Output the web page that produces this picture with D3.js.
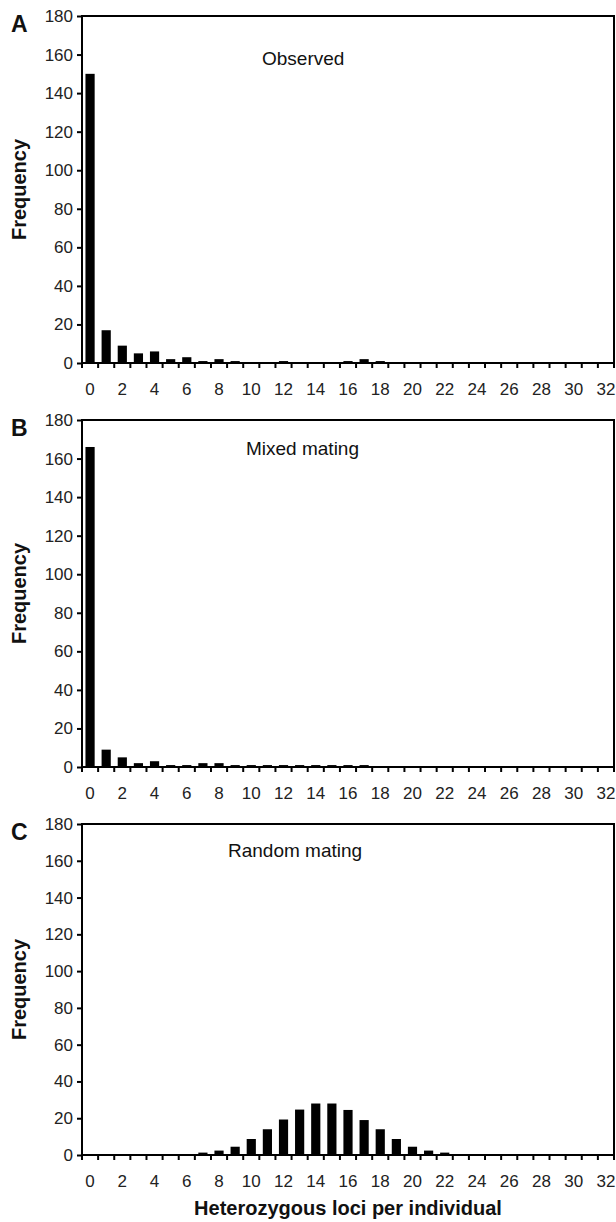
<!DOCTYPE html>
<html>
<meta charset="UTF-8">
<head>
    <script src="https://cdn.jsdelivr.net/npm/d3@7"></script>
    <style>
        body { margin: 0; background: white; }
        text { font-family: "Liberation Sans", Arial, sans-serif; }
    </style>
</head>
<body>
</body>
<script>
    // heterozygous loci per individual (categories)
    let loci = [0, 1, 2, 3, 4, 5, 6, 7, 8, 9, 10, 11, 12, 13, 14, 15, 16,
                17, 18, 19, 20, 21, 22, 23, 24, 25, 26, 27, 28, 29, 30, 31, 32];

    let observed = [150, 17, 9, 5, 6, 2, 3, 1, 2, 1, 0, 0, 1, 0, 0, 0, 1,
                    2, 1, 0, 0, 0, 0, 0, 0, 0, 0, 0, 0, 0, 0, 0, 0];

    let mixedMating = [166, 9, 5, 2, 3, 1, 1, 2, 2, 1, 1, 1, 1, 1, 1, 1, 1,
                       1, 0, 0, 0, 0, 0, 0, 0, 0, 0, 0, 0, 0, 0, 0, 0];

    let randomMating = [0, 0, 0, 0, 0, 0, 0, 1.3, 2.4, 4.5, 8.7, 14, 19.3, 24.7, 28, 28, 24.5,
                        19, 14, 8.7, 4.5, 2.4, 1.3, 0, 0, 0, 0, 0, 0, 0, 0, 0, 0];

    let yTicks = [0, 20, 40, 60, 80, 100, 120, 140, 160, 180];
    let xTickLabels = [0, 2, 4, 6, 8, 10, 12, 14, 16, 18, 20, 22, 24, 26, 28, 30, 32];

    let panels = [
        {letter: "A", title: "Observed", values: observed, top: 16, bottom: 363, titleX: 262, titleY: 65},
        {letter: "B", title: "Mixed mating", values: mixedMating, top: 420, bottom: 767, titleX: 246, titleY: 455},
        {letter: "C", title: "Random mating", values: randomMating, top: 824, bottom: 1155, titleX: 228, titleY: 857}
    ];

    let width = 616, height = 1222;
    let left = 82, right = 614;

    let svg = d3.select("body").append("svg")
        .attr("width", width)
        .attr("height", height);

    let x = d3.scaleBand()
        .domain(loci)
        .range([left, right])
        .paddingInner(0.43)
        .paddingOuter(0.215);

    // category boundaries for the tick marks
    let xEdge = d3.scaleLinear().domain([0, loci.length]).range([left, right]);

    for (let p of panels) {
        let y = d3.scaleLinear().domain([0, 180]).range([p.bottom, p.top]);
        let g = svg.append("g");

        // bars
        g.selectAll("rect.bar")
            .data(p.values)
            .join("rect")
            .attr("class", "bar")
            .attr("x", (d, i) => x(loci[i]))
            .attr("width", x.bandwidth())
            .attr("y", d => y(d))
            .attr("height", d => p.bottom - y(d))
            .attr("fill", "black");

        // frame
        g.append("rect")
            .attr("x", left)
            .attr("y", p.top)
            .attr("width", right - left)
            .attr("height", p.bottom - p.top)
            .attr("fill", "none")
            .attr("stroke", "black")
            .attr("stroke-width", 2);

        // y axis
        let yAxis = g.append("g")
            .attr("transform", `translate(${left},0)`)
            .call(d3.axisLeft(y).tickValues(yTicks).tickSize(5).tickPadding(4));
        yAxis.select(".domain").remove();
        yAxis.selectAll("line").attr("stroke", "black").attr("stroke-width", 2);
        yAxis.selectAll("text")
            .attr("font-size", 17)
            .attr("fill", "#222")
            .attr("font-family", "Liberation Sans, Arial, sans-serif");

        // x tick marks on category boundaries
        g.selectAll("line.xtick")
            .data(d3.range(0, loci.length + 1))
            .join("line")
            .attr("class", "xtick")
            .attr("x1", d => xEdge(d))
            .attr("x2", d => xEdge(d))
            .attr("y1", p.bottom)
            .attr("y2", p.bottom + 5)
            .attr("stroke", "black")
            .attr("stroke-width", 2);

        // x labels
        g.selectAll("text.xlab")
            .data(xTickLabels)
            .join("text")
            .attr("class", "xlab")
            .attr("x", d => x(d) + x.bandwidth() / 2)
            .attr("y", p.bottom + 32)
            .attr("text-anchor", "middle")
            .attr("font-size", 17)
            .attr("fill", "#222")
            .text(d => d);

        // panel letter
        g.append("text")
            .attr("x", 11)
            .attr("y", p.top + 16)
            .attr("font-size", 23)
            .attr("font-weight", "bold")
            .attr("fill", "#111")
            .text(p.letter);

        // panel title
        g.append("text")
            .attr("x", p.titleX)
            .attr("y", p.titleY)
            .attr("font-size", 19)
            .attr("fill", "#111")
            .text(p.title);

        // y label
        g.append("text")
            .attr("transform", `translate(26,${(p.top + p.bottom) / 2}) rotate(-90)`)
            .attr("text-anchor", "middle")
            .attr("font-size", 20)
            .attr("font-weight", "bold")
            .attr("fill", "#111")
            .text("Frequency");
    }

    svg.append("text")
        .attr("x", (left + right) / 2)
        .attr("y", 1215)
        .attr("text-anchor", "middle")
        .attr("font-size", 20)
        .attr("font-weight", "bold")
        .attr("fill", "#111")
        .text("Heterozygous loci per individual");
</script>
</html>
